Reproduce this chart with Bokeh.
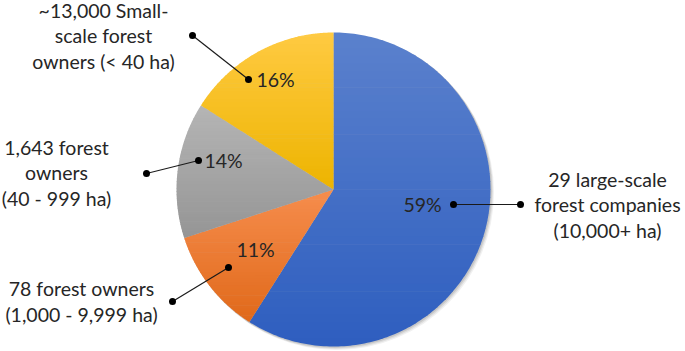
import numpy as np
from bokeh.plotting import figure
from bokeh.models import Range1d
from bokeh.core.properties import value
from bokeh.embed import file_html
from bokeh.resources import INLINE

# ---------------- data ----------------
shares = [59, 11, 14, 16]  # percent, clockwise from 12 o'clock
label_lines = [
    ["29 large-scale", "forest companies", "(10,000+ ha)"],
    ["78 forest owners", "(1,000 - 9,999 ha)"],
    ["1,643 forest", "owners", "(40 - 999 ha)"],
    ["~13,000 Small-", "scale forest", "owners (< 40 ha)"],
]
pct_labels = [f"{v}%" for v in shares]

# ---------------- styling / layout (reference pixel coordinates, y down) ----------------
top_colors = ["#5B81CD", "#F68D4D", "#B5B5B5", "#FFCA42"]
bottom_colors = ["#2E5EBF", "#E0691A", "#959595", "#EDB400"]
W, H = 685, 351
cx_ref, cy_ref, R = 333, 189, 157

pct_pos = [(422, 204), (255, 249), (223, 160), (275, 79)]
inner_dot = [(453, 204), (228, 267), (198, 160), (248, 79)]
outer_dot = [(520, 204), (172, 301), (146, 173), (192, 35)]
label_center = [(607, 204), (81, 301), (56, 172), (103, 35)]
LINE_SP = 25.5
FONT = "Lato"
FSIZE = "19.5px"
TXT = "#262626"


def Y(y_ref):
    return H - y_ref


p = figure(width=W, height=H, output_backend="svg", toolbar_location=None,
           x_range=Range1d(0, W), y_range=Range1d(0, H), min_border=0)
p.axis.visible = False
p.grid.visible = False
p.outline_line_color = None
p.background_fill_color = "white"

cx, cy = cx_ref, Y(cy_ref)


def hex2rgb(h):
    h = h.lstrip("#")
    return np.array([int(h[i:i + 2], 16) for i in (0, 2, 4)], dtype=float)


def rgb2hex(c):
    c = np.clip(np.round(c), 0, 255).astype(int)
    return "#%02x%02x%02x" % tuple(c)


def clip(poly, y0, keep_above):
    out = []
    n = len(poly)
    for i in range(n):
        a = poly[i]
        b = poly[(i + 1) % n]
        ina = (a[1] >= y0) if keep_above else (a[1] <= y0)
        inb = (b[1] >= y0) if keep_above else (b[1] <= y0)
        if ina:
            out.append(a)
        if ina != inb:
            t = (y0 - a[1]) / (b[1] - a[1])
            out.append((a[0] + t * (b[0] - a[0]), y0))
    return out


# soft shadow
for off, alpha in [(3, 0.06), (2, 0.08), (1, 0.10)]:
    p.circle(x=[cx + off], y=[cy - off], radius=R + 0.5, fill_color="black",
             fill_alpha=alpha, line_color=None)

# slices with vertical gradient, computed from the shares
cum = np.concatenate([[0], np.cumsum(shares)]) / float(sum(shares))
xs, ys, cols = [], [], []
for i in range(len(shares)):
    a_start = np.pi / 2 - 2 * np.pi * cum[i]
    a_end = np.pi / 2 - 2 * np.pi * cum[i + 1]
    t = np.linspace(a_start, a_end, 200)
    poly = [(cx, cy)] + [(cx + R * np.cos(a), cy + R * np.sin(a)) for a in t]
    pys = [q[1] for q in poly]
    ymin, ymax = min(pys), max(pys)
    nb = 40
    edges = np.linspace(ymax, ymin, nb + 1)
    ct, cb = hex2rgb(top_colors[i]), hex2rgb(bottom_colors[i])
    for b in range(nb):
        hi, lo = edges[b] + 0.3, edges[b + 1] - 0.3
        sub = clip(poly, lo, True)
        if len(sub) < 3:
            continue
        sub = clip(sub, hi, False)
        if len(sub) < 3:
            continue
        f = (b + 0.5) / nb
        xs.append([q[0] for q in sub])
        ys.append([q[1] for q in sub])
        cols.append(rgb2hex(ct + (cb - ct) * f))
p.patches(xs, ys, fill_color=cols, line_color=None)

# leader lines and dots
p.segment(x0=[q[0] for q in inner_dot], y0=[Y(q[1]) for q in inner_dot],
          x1=[q[0] for q in outer_dot], y1=[Y(q[1]) for q in outer_dot],
          line_color="#1a1a1a", line_width=1.2)
p.scatter(x=[q[0] for q in inner_dot + outer_dot], y=[Y(q[1]) for q in inner_dot + outer_dot],
          size=7, marker="circle", fill_color="black", line_color=None)

# percentage labels
p.text(x=[q[0] for q in pct_pos], y=[Y(q[1]) for q in pct_pos], text=pct_labels,
       text_font=value(FONT), text_font_size=FSIZE, text_color=TXT,
       text_align="center", text_baseline="middle")

# category labels
lx, ly, lt = [], [], []
for (xc, yc), lines in zip(label_center, label_lines):
    n = len(lines)
    for j, s in enumerate(lines):
        lx.append(xc)
        ly.append(Y(yc + (j - (n - 1) / 2) * LINE_SP))
        lt.append(s)
p.text(x=lx, y=ly, text=lt, text_font=value(FONT), text_font_size=FSIZE, text_color=TXT,
       text_align="center", text_baseline="middle")

open("out.html", "w").write(file_html(p, INLINE))
